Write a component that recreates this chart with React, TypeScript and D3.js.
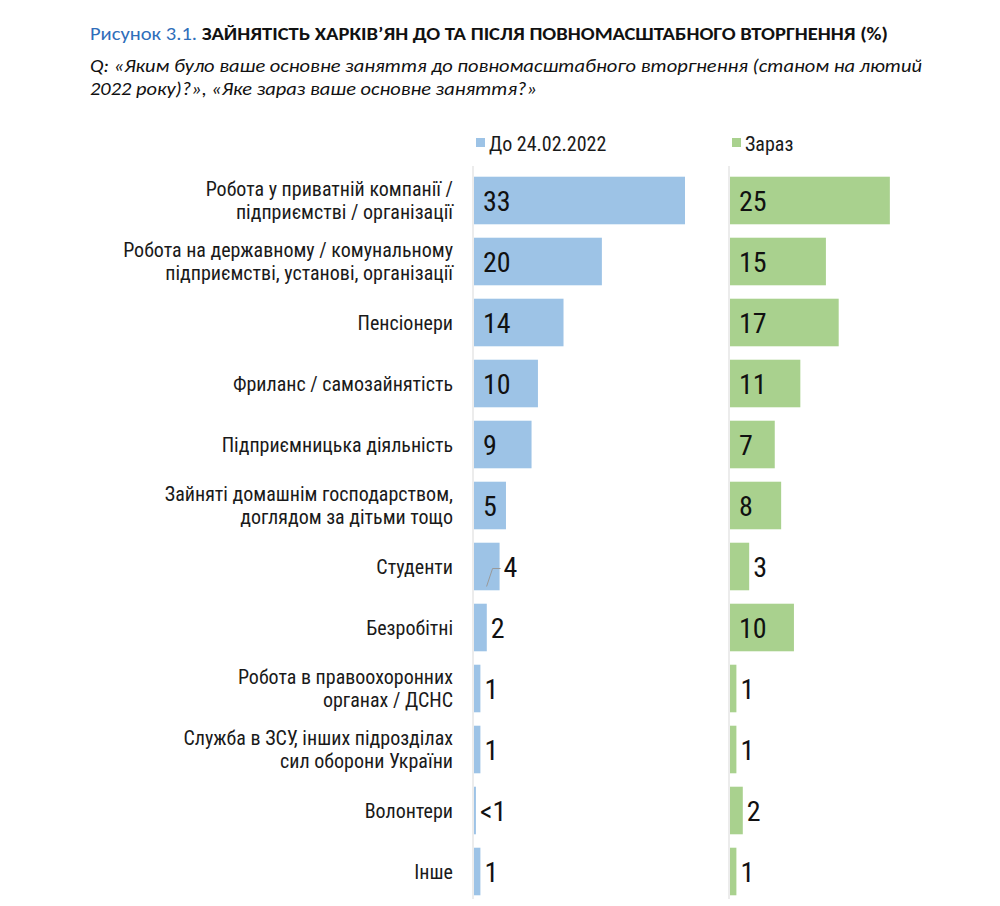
import * as d3 from "d3";
import { useEffect, useRef } from "react";

const categories: string[][] = [
  ["Робота у приватній компанії /", "підприємстві / організації"],
  ["Робота на державному / комунальному", "підприємстві, установі, організації"],
  ["Пенсіонери"],
  ["Фриланс / самозайнятість"],
  ["Підприємницька діяльність"],
  ["Зайняті домашнім господарством,", "доглядом за дітьми тощо"],
  ["Студенти"],
  ["Безробітні"],
  ["Робота в правоохоронних", "органах / ДСНС"],
  ["Служба в ЗСУ, інших підрозділах", "сил оборони України"],
  ["Волонтери"],
  ["Інше"],
];

const before = [33, 20, 14, 10, 9, 5, 4, 2, 1, 1, 0.3, 1];
const beforeLabels = ["33", "20", "14", "10", "9", "5", "4", "2", "1", "1", "<1", "1"];
const now = [25, 15, 17, 11, 7, 8, 3, 10, 1, 1, 2, 1];
const nowLabels = ["25", "15", "17", "11", "7", "8", "3", "10", "1", "1", "2", "1"];

const seriesNames = ["До 24.02.2022", "Зараз"];
const colors = ["#9DC3E6", "#A9D18E"];

const FONT = "'Roboto Condensed', 'Liberation Sans Narrow', Roboto, sans-serif";

export default function App() {
  const ref = useRef<SVGSVGElement | null>(null);

  useEffect(() => {
    if (!ref.current) return;
    const svg = d3.select(ref.current);
    svg.selectAll("*").remove();

    const width = 1000;
    const height = 906;

    svg
      .attr("width", width)
      .attr("height", height)
      .style("position", "absolute")
      .style("left", "0px")
      .style("top", "0px");

    // title
    const title = svg
      .append("text")
      .attr("x", 90)
      .attr("y", 40)
      .attr("font-family", "Carlito, 'Open Sans', sans-serif")
      .attr("font-size", 18)
      .attr("textLength", 798)
      .attr("lengthAdjust", "spacingAndGlyphs");
    title.append("tspan").attr("fill", "#2F6EBA").text("Рисунок 3.1. ");
    title
      .append("tspan")
      .attr("fill", "#111")
      .attr("font-weight", "bold")
      .text("ЗАЙНЯТІСТЬ ХАРКІВ’ЯН ДО ТА ПІСЛЯ ПОВНОМАСШТАБНОГО ВТОРГНЕННЯ (%)");

    const sub = [
      ["Q: «Яким було ваше основне заняття до повномасштабного вторгнення (станом на лютий", 832],
      ["2022 року)?», «Яке зараз ваше основне заняття?»", 447],
    ] as [string, number][];
    sub.forEach(([t, len], i) => {
      svg
        .append("text")
        .attr("x", 90)
        .attr("y", 72 + i * 23)
        .attr("font-family", "Carlito, 'Open Sans', sans-serif")
        .attr("font-style", "italic")
        .attr("font-size", 18)
        .attr("fill", "#111")
        .attr("textLength", len)
        .attr("lengthAdjust", "spacingAndGlyphs")
        .text(t);
    });

    const y = d3
      .scaleBand<number>()
      .domain(d3.range(categories.length))
      .range([170, 902])
      .paddingInner(0.22)
      .paddingOuter(0.11);

    const x = d3.scaleLinear().domain([0, 33]).range([0, 211]);
    const panelX = [473, 729];
    const data = [before, now];
    const labels = [beforeLabels, nowLabels];

    // category labels
    categories.forEach((lines, i) => {
      const cy = y(i)! + y.bandwidth() / 2;
      const t = svg
        .append("text")
        .attr("text-anchor", "end")
        .attr("font-family", FONT)
        .attr("font-size", 20)
        .attr("fill", "#1a1a1a");
      lines.forEach((ln, j) => {
        t.append("tspan")
          .attr("x", 453)
          .attr("y", cy + 7 + (j - (lines.length - 1) / 2) * 23)
          .text(ln);
      });
    });

    panelX.forEach((x0, p) => {
      const g = svg.append("g").attr("transform", `translate(${x0},0)`);

      g.append("line")
        .attr("x1", 0)
        .attr("x2", 0)
        .attr("y1", 166)
        .attr("y2", 899)
        .attr("stroke", "#d9d9d9")
        .attr("stroke-width", 1);

      // legend
      g.append("rect")
        .attr("x", 3)
        .attr("y", 138)
        .attr("width", 9)
        .attr("height", 9)
        .attr("fill", colors[p]);
      g.append("text")
        .attr("x", 16)
        .attr("y", 151)
        .attr("font-family", FONT)
        .attr("font-size", 20)
        .attr("fill", "#1a1a1a")
        .text(seriesNames[p]);

      g.selectAll("rect.bar")
        .data(data[p])
        .join("rect")
        .attr("class", "bar")
        .attr("x", 1)
        .attr("y", (_, i) => y(i)!)
        .attr("width", (d) => Math.max(1.5, x(d)))
        .attr("height", y.bandwidth())
        .attr("fill", colors[p]);

      g.selectAll("text.val")
        .data(data[p])
        .join("text")
        .attr("class", "val")
        .attr("x", (d) => (d >= 5 ? 10 : x(d) + 5))
        .attr("y", (_, i) => y(i)! + y.bandwidth() / 2 + 10)
        .attr("font-family", FONT)
        .attr("font-size", 28)
        .attr("fill", "#111")
        .text((_, i) => labels[p][i]);

      // leader line artefact for "4"
      if (p === 0) {
        const i = 6;
        const cy = y(i)! + y.bandwidth() / 2;
        g.append("path")
          .attr("d", `M${x(data[p][i]) - 12},${cy + 20} L${x(data[p][i]) - 6},${cy + 2} L${x(data[p][i]) + 2},${cy + 2}`)
          .attr("fill", "none")
          .attr("stroke", "#999")
          .attr("stroke-width", 1);
      }
    });
  }, []);

  return <svg ref={ref}></svg>;
}
